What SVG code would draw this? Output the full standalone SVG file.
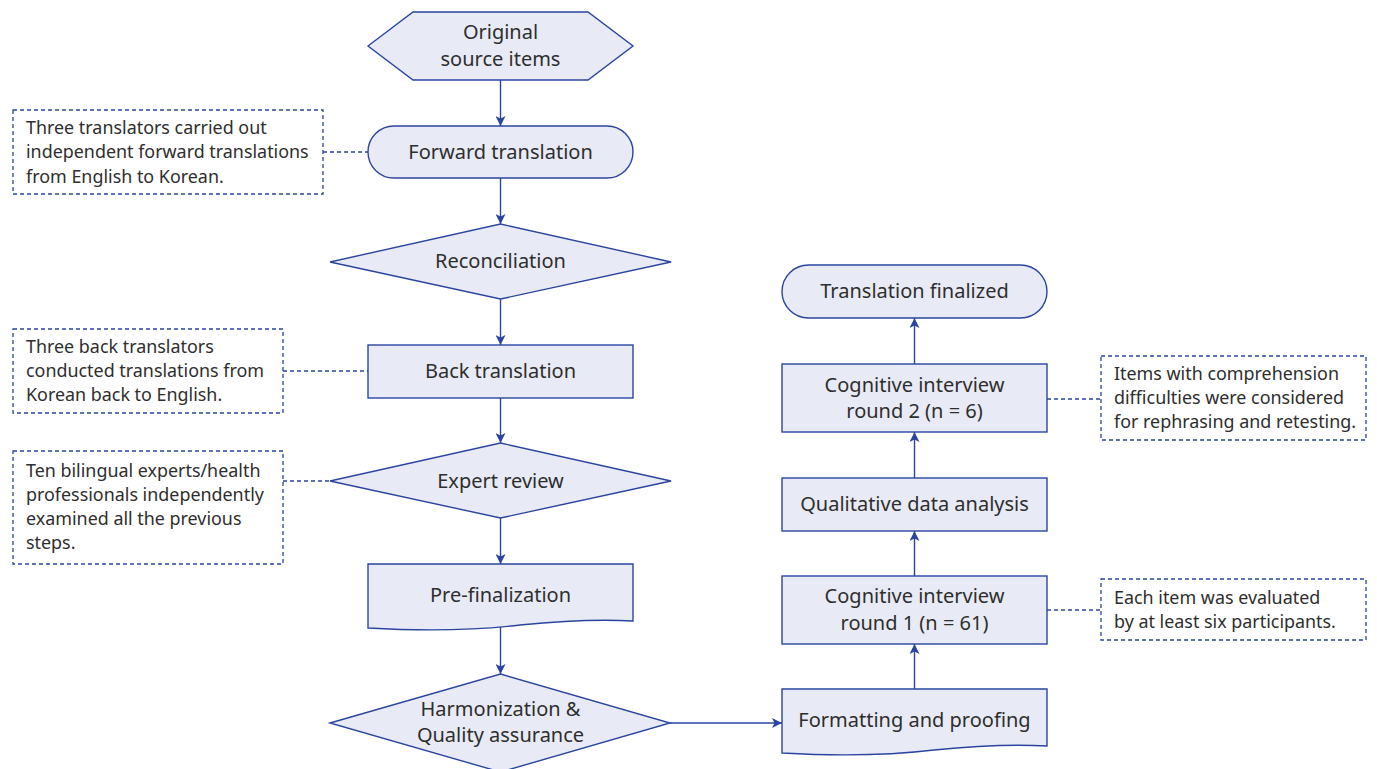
<svg xmlns="http://www.w3.org/2000/svg" width="1377" height="769" viewBox="0 0 1377 769">
<defs>
<marker id="arr" viewBox="0 0 10 10" refX="10" refY="5" markerWidth="10" markerHeight="10" markerUnits="userSpaceOnUse" orient="auto">
<path d="M0,0 L10,5 L0,10 L2.5,5 Z" fill="#2a45a0"/>
</marker>
<style>
.n{fill:#e8ebf5;stroke:#2a45a0;stroke-width:1.4}
.t{font-family:"Noto Sans","Liberation Sans",sans-serif;font-size:20px;fill:#2e2e2e;text-anchor:middle}
.a{font-family:"Noto Sans","Liberation Sans",sans-serif;font-size:17.9px;fill:#2e2e2e}
.d{fill:#fff;stroke:#2a45a0;stroke-width:1.3;stroke-dasharray:4 3}
.c{fill:none;stroke:#2a45a0;stroke-width:1.4}
.dc{fill:none;stroke:#2a45a0;stroke-width:1.3;stroke-dasharray:4 3}
</style>
</defs>
<rect width="1377" height="769" fill="#fff"/>
<g id="connectors">
<path class="c" d="M500.5,80 V126" marker-end="url(#arr)"/>
<path class="c" d="M500.5,178 V224" marker-end="url(#arr)"/>
<path class="c" d="M500.5,299 V345" marker-end="url(#arr)"/>
<path class="c" d="M500.5,398 V443" marker-end="url(#arr)"/>
<path class="c" d="M500.5,518 V564" marker-end="url(#arr)"/>
<path class="c" d="M500.5,626 V674" marker-end="url(#arr)"/>
<path class="c" d="M670,723 H782" marker-end="url(#arr)"/>
<path class="c" d="M914.5,689 V644" marker-end="url(#arr)"/>
<path class="c" d="M914.5,576 V531" marker-end="url(#arr)"/>
<path class="c" d="M914.5,478 V432" marker-end="url(#arr)"/>
<path class="c" d="M914.5,364 V318" marker-end="url(#arr)"/>
<path class="dc" d="M323,152 H368"/>
<path class="dc" d="M283,371 H368"/>
<path class="dc" d="M283,481 H330"/>
<path class="dc" d="M1047,399 H1101"/>
<path class="dc" d="M1047,610 H1101"/>
</g>
<g id="original">
<polygon class="n" points="368,46 413,12 588,12 633,46 588,80 413,80"/>
<text class="t" x="500.5" y="39">Original</text>
<text class="t" x="500.5" y="66">source items</text>
</g>
<g id="forward">
<rect class="n" x="368" y="126" width="265" height="52" rx="26"/>
<text class="t" x="500.5" y="159">Forward translation</text>
</g>
<g id="reconciliation">
<polygon class="n" points="330,262 500.5,224 671,262 500.5,299"/>
<text class="t" x="500.5" y="268">Reconciliation</text>
</g>
<g id="back">
<rect class="n" x="368" y="345" width="265" height="53"/>
<text class="t" x="500.5" y="378">Back translation</text>
</g>
<g id="expert">
<polygon class="n" points="330,481 500.5,443 671,481 500.5,518"/>
<text class="t" x="500.5" y="488">Expert review</text>
</g>
<g id="prefinal">
<path class="n" d="M368,564 H633 V621 C595,619 560,621 520,625 C470,631 420,631 368,628 Z"/>
<text class="t" x="500.5" y="602">Pre-finalization</text>
</g>
<g id="harmonization">
<polygon class="n" points="330,723 500.5,674 670,723 500.5,772"/>
<text class="t" x="500.5" y="716">Harmonization &amp;</text>
<text class="t" x="500.5" y="742">Quality assurance</text>
</g>
<g id="formatting">
<path class="n" d="M782,689 H1047 V746 C1009,744 974,746 934,750 C884,756 834,756 782,753 Z"/>
<text class="t" x="914.5" y="727">Formatting and proofing</text>
</g>
<g id="ci1">
<rect class="n" x="782" y="576" width="265" height="68"/>
<text class="t" x="914.5" y="603">Cognitive interview</text>
<text class="t" x="914.5" y="630">round 1 (n = 61)</text>
</g>
<g id="qda">
<rect class="n" x="782" y="478" width="265" height="53"/>
<text class="t" x="914.5" y="511">Qualitative data analysis</text>
</g>
<g id="ci2">
<rect class="n" x="782" y="364" width="265" height="68"/>
<text class="t" x="914.5" y="392">Cognitive interview</text>
<text class="t" x="914.5" y="418">round 2 (n = 6)</text>
</g>
<g id="finalized">
<rect class="n" x="782" y="265" width="265" height="53" rx="26.5"/>
<text class="t" x="914.5" y="298">Translation finalized</text>
</g>
<g id="note-forward">
<rect class="d" x="13" y="110" width="310" height="84"/>
<text class="a" x="26" y="134">Three translators carried out</text>
<text class="a" x="26" y="158">independent forward translations</text>
<text class="a" x="26" y="183">from English to Korean.</text>
</g>
<g id="note-back">
<rect class="d" x="13" y="329" width="270" height="84"/>
<text class="a" x="26" y="353">Three back translators</text>
<text class="a" x="26" y="377">conducted translations from</text>
<text class="a" x="26" y="401">Korean back to English.</text>
</g>
<g id="note-expert">
<rect class="d" x="13" y="451" width="270" height="113"/>
<text class="a" x="26" y="477">Ten bilingual experts/health</text>
<text class="a" x="26" y="501">professionals independently</text>
<text class="a" x="26" y="525">examined all the previous</text>
<text class="a" x="26" y="549">steps.</text>
</g>
<g id="note-ci2">
<rect class="d" x="1101" y="356" width="265" height="84"/>
<text class="a" x="1114" y="380">Items with comprehension</text>
<text class="a" x="1114" y="404">difficulties were considered</text>
<text class="a" x="1114" y="428">for rephrasing and retesting.</text>
</g>
<g id="note-ci1">
<rect class="d" x="1101" y="579" width="265" height="61"/>
<text class="a" x="1114" y="604">Each item was evaluated</text>
<text class="a" x="1114" y="628">by at least six participants.</text>
</g>
</svg>
